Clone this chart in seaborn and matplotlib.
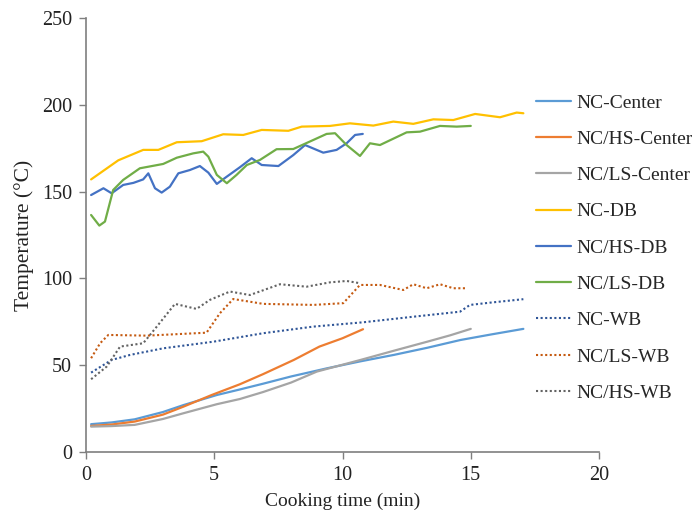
import numpy as np
import pandas as pd
import matplotlib
matplotlib.use("Agg")
import matplotlib.pyplot as plt
import seaborn as sns

# ---- data ----
nc_center_t = [0.2, 1.0, 1.9, 3.0, 3.8, 5.1, 6.0, 6.9, 8.0, 9.4, 10.7, 12.0, 13.3, 14.6, 15.8, 17.05]
nc_center_v = [16.0, 17.0, 18.8, 23.0, 27.0, 32.8, 36.0, 39.3, 43.5, 48.2, 52.2, 55.9, 60.0, 64.5, 67.7, 70.9]

nchs_center_t = [0.2, 1.0, 1.9, 3.0, 3.8, 4.9, 6.0, 6.9, 8.1, 9.1, 10.0, 10.8]
nchs_center_v = [15.0, 15.8, 17.5, 21.5, 26.1, 32.8, 39.0, 44.8, 53.0, 60.7, 65.5, 70.7]

ncls_center_t = [0.2, 1.0, 1.9, 3.0, 3.8, 5.1, 6.0, 6.9, 8.0, 9.0, 10.7, 12.0, 13.3, 14.2, 15.0]
ncls_center_v = [14.6, 14.9, 15.6, 19.0, 22.3, 27.5, 30.5, 34.5, 40.0, 46.3, 53.0, 58.3, 63.5, 67.2, 70.9]

nc_db_t = [0.2, 1.26, 2.23, 2.82, 3.54, 4.51, 5.35, 6.13, 6.85, 7.89, 8.41, 9.51,
           10.29, 11.2, 11.98, 12.76, 13.54, 14.32, 15.17, 16.14, 16.79, 17.05]
nc_db_v = [157.0, 168.0, 174.0, 174.0, 178.4, 179.0, 183.0, 182.6, 185.5, 185.0, 187.4, 187.8,
           189.3, 188.0, 190.3, 189.0, 191.6, 191.2, 194.7, 192.8, 195.5, 195.1]

nchs_db_t = [0.2, 0.68, 1.0, 1.45, 1.85, 2.23, 2.43, 2.69, 2.95, 3.27, 3.6, 4.05, 4.44,
             4.77, 5.1, 5.49, 6.0, 6.46, 6.85, 7.5, 8.08, 8.54, 9.25, 9.77, 10.16, 10.49, 10.79]
nchs_db_v = [148.0, 151.9, 149.0, 153.8, 155.0, 157.0, 160.5, 151.9, 149.4, 152.8, 160.5, 162.4, 164.7,
             160.9, 154.4, 158.6, 164.0, 169.2, 165.3, 164.7, 171.0, 176.8, 172.4, 174.0, 177.8, 182.6, 183.2]

ncls_db_t = [0.2, 0.52, 0.74, 1.06, 1.45, 2.1, 3.01, 3.54, 4.18, 4.57, 4.77, 5.1, 5.49, 5.87,
             6.27, 6.78, 7.43, 8.08, 8.86, 9.38, 9.71, 10.16, 10.68, 11.07, 11.46, 12.5, 13.02,
             13.8, 14.45, 15.0]
ncls_db_v = [136.5, 130.4, 132.7, 150.9, 156.7, 163.4, 165.9, 169.5, 172.0, 173.0, 170.1, 159.6, 154.8, 159.6,
             165.3, 168.2, 174.4, 174.5, 179.7, 183.2, 183.6, 176.8, 170.5, 177.8, 176.8, 184.1, 184.5,
             187.8, 187.4, 187.8]

nc_wb_t = [0.2, 1.0, 1.72, 3.01, 4.96, 6.91, 8.86, 10.81, 12.76, 14.58, 14.97, 15.75, 17.05]
nc_wb_v = [45.7, 53.0, 55.9, 59.7, 63.5, 68.4, 72.2, 74.7, 77.9, 80.8, 84.7, 86.0, 88.0]

ncls_wb_t = [0.2, 0.55, 0.87, 2.37, 4.7, 5.22, 5.74, 6.91, 8.86, 10.03, 10.68, 11.46, 12.37,
             12.76, 13.28, 13.8, 14.32, 14.87]
ncls_wb_v = [54.0, 62.6, 67.4, 67.0, 68.7, 79.9, 88.1, 85.3, 84.7, 85.7, 96.2, 96.2, 93.3,
             96.6, 94.3, 96.6, 94.3, 94.3]

nchs_wb_t = [0.2, 0.81, 1.33, 2.23, 2.76, 3.47, 4.31, 4.83, 5.61, 6.39, 7.56, 8.6, 9.51, 10.16, 10.68]
nchs_wb_v = [41.9, 49.2, 60.7, 62.6, 72.2, 85.3, 82.4, 87.6, 92.4, 90.4, 96.6, 95.2, 97.7, 98.5, 97.2]

labels = ["NC-Center", "NC/HS-Center", "NC/LS-Center", "NC-DB", "NC/HS-DB",
          "NC/LS-DB", "NC-WB", "NC/LS-WB", "NC/HS-WB"]
times = [nc_center_t, nchs_center_t, ncls_center_t, nc_db_t, nchs_db_t,
         ncls_db_t, nc_wb_t, ncls_wb_t, nchs_wb_t]
temps = [nc_center_v, nchs_center_v, ncls_center_v, nc_db_v, nchs_db_v,
         ncls_db_v, nc_wb_v, ncls_wb_v, nchs_wb_v]
colors = ["#5B9BD5", "#ED7D31", "#A5A5A5", "#FFC000", "#4472C4",
          "#70AD47", "#2F5597", "#C55A11", "#636363"]
dotted = [False] * 6 + [True] * 3

# ---- plotting ----
sns.set_theme(style="white")
plt.rcParams["font.family"] = ["Liberation Serif", "DejaVu Serif"]

fig = plt.figure(figsize=(6.99, 5.13), dpi=100)
ax = fig.add_axes([0.123, 0.119, 0.734, 0.846])

for lab, t, v, c, d in zip(labels, times, temps, colors, dotted):
    df = pd.DataFrame({"t": t, "v": v})
    sns.lineplot(data=df, x="t", y="v", ax=ax, color=c, label=lab,
                 linewidth=1.6 if not d else 1.5,
                 linestyle=(0, (1, 1.2)) if d else "-")

ax.set_xlim(0, 20)
ax.set_ylim(0, 250)
ax.set_xticks([0, 5, 10, 15, 20])
ax.set_yticks([0, 50, 100, 150, 200, 250])
ax.set_xlabel("Cooking time (min)", fontsize=14, color="#222222", labelpad=6)
ax.set_ylabel("Temperature (°C)", fontsize=15.5, color="#222222", labelpad=6)
ax.tick_params(axis="both", labelsize=14.5, colors="#222222", length=5, width=1,
               pad=5, direction="out", bottom=True, left=True)
for s in ["top", "right"]:
    ax.spines[s].set_visible(False)
for s in ["left", "bottom"]:
    ax.spines[s].set_color("#7F7F7F")
    ax.spines[s].set_linewidth(1.2)
ax.tick_params(axis="both", color="#7F7F7F")

ax.legend_.remove()
handles, labs = ax.get_legend_handles_labels()
fig.legend(handles, labs, loc="upper left", bbox_to_anchor=(0.755, 0.832),
           frameon=False, fontsize=14, handlelength=1.8, handletextpad=0.3,
           labelspacing=0.96, borderaxespad=0)

fig.savefig("out.png", dpi=100)
